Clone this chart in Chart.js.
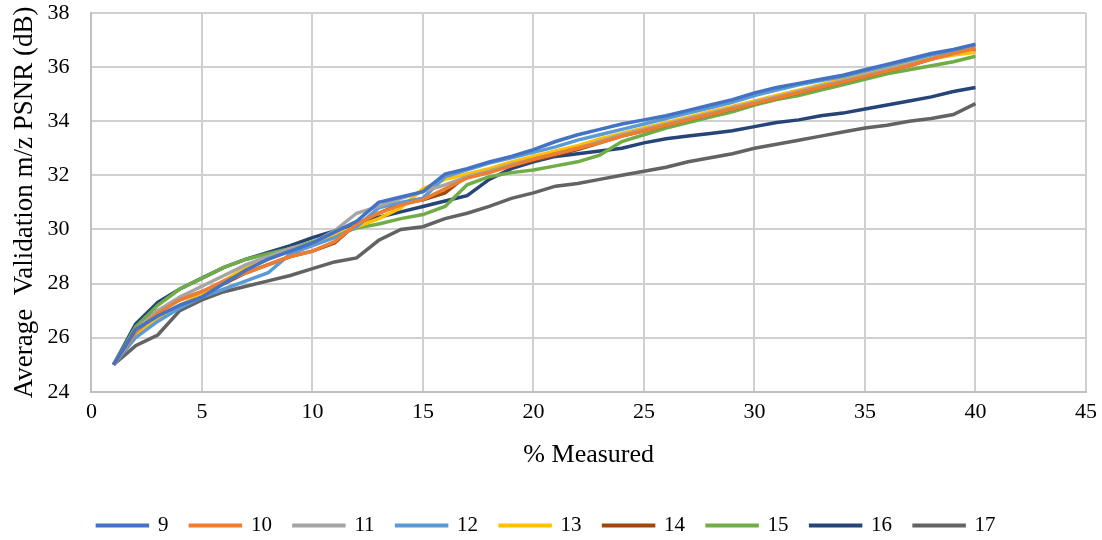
<!DOCTYPE html>
<html>
<head>
<meta charset="utf-8">
<script src="https://cdn.jsdelivr.net/npm/chart.js@4.4.1/dist/chart.umd.min.js"></script>
<style>
  html, body { margin: 0; padding: 0; background: #fff; }
  #wrap { width: 1102px; height: 540px; }
</style>
</head>
<body>
<div id="wrap"><canvas id="psnrChart" width="1102" height="540"></canvas></div>
<script>
// % measured
var measured = [1, 2, 3, 4, 5, 6, 7, 8, 9, 10, 11, 12, 13, 14, 15, 16, 17, 18, 19, 20,
                21, 22, 23, 24, 25, 26, 27, 28, 29, 30, 31, 32, 33, 34, 35, 36, 37, 38, 39, 40];

var s9  = [25, 26.3, 26.8, 27.2, 27.5, 28.0, 28.5, 28.9, 29.2, 29.5, 29.9, 30.3, 31.0, 31.2, 31.4, 32.05, 32.25, 32.5, 32.7, 32.95,
           33.25, 33.5, 33.7, 33.9, 34.05, 34.2, 34.4, 34.6, 34.8, 35.05, 35.25, 35.4, 35.55, 35.7, 35.9, 36.1, 36.3, 36.5, 36.65, 36.85];
var s10 = [25, 26.2, 26.9, 27.4, 27.7, 28.1, 28.4, 28.7, 29.0, 29.2, 29.55, 30.2, 30.6, 30.9, 31.1, 31.5, 31.9, 32.1, 32.35, 32.6,
           32.8, 33.0, 33.2, 33.45, 33.65, 33.85, 34.05, 34.25, 34.45, 34.65, 34.85, 35.05, 35.25, 35.45, 35.65, 35.85, 36.05, 36.3, 36.5, 36.7];
var s11 = [25, 26.3, 27.0, 27.5, 27.9, 28.3, 28.7, 29.0, 29.3, 29.5, 29.95, 30.6, 30.85, 31.15, 31.4, 31.65, 31.95, 32.15, 32.4, 32.6,
           32.8, 33.0, 33.25, 33.5, 33.7, 33.9, 34.1, 34.3, 34.5, 34.7, 34.9, 35.1, 35.3, 35.5, 35.7, 35.9, 36.1, 36.3, 36.5, 36.7];
var s12 = [25, 26.0, 26.6, 27.1, 27.5, 27.8, 28.1, 28.4, 29.1, 29.4, 29.7, 30.1, 30.8, 31.0, 31.15, 31.95, 32.2, 32.45, 32.65, 32.85,
           33.05, 33.3, 33.5, 33.7, 33.9, 34.1, 34.3, 34.5, 34.7, 34.95, 35.15, 35.35, 35.5, 35.65, 35.85, 36.05, 36.25, 36.45, 36.6, 36.8];
var s13 = [25, 26.1, 26.7, 27.2, 27.6, 28.1, 28.6, 28.9, 29.2, 29.5, 29.8, 30.1, 30.4, 30.8, 31.5, 31.85, 32.05, 32.25, 32.5, 32.7,
           32.9, 33.1, 33.35, 33.55, 33.75, 33.95, 34.15, 34.35, 34.55, 34.75, 34.95, 35.15, 35.35, 35.55, 35.75, 35.95, 36.15, 36.3, 36.45, 36.55];
var s14 = [25, 26.3, 27.0, 27.4, 27.7, 28.0, 28.4, 28.7, 29.0, 29.2, 29.5, 30.2, 30.6, 30.95, 31.1, 31.35, 32.0, 32.15, 32.35, 32.55,
           32.75, 32.95, 33.2, 33.45, 33.65, 33.85, 34.05, 34.25, 34.45, 34.65, 34.85, 35.05, 35.25, 35.45, 35.65, 35.85, 36.05, 36.3, 36.5, 36.65];
var s15 = [25, 26.4, 27.2, 27.8, 28.2, 28.6, 28.9, 29.1, 29.3, 29.55, 29.8, 30.05, 30.2, 30.4, 30.55, 30.85, 31.65, 31.95, 32.1, 32.2,
           32.35, 32.5, 32.75, 33.25, 33.5, 33.75, 33.95, 34.15, 34.35, 34.6, 34.8, 34.95, 35.15, 35.35, 35.55, 35.75, 35.9, 36.05, 36.2, 36.4];
var s16 = [25, 26.5, 27.3, 27.8, 28.2, 28.6, 28.9, 29.15, 29.4, 29.7, 29.95, 30.2, 30.45, 30.65, 30.85, 31.05, 31.25, 31.85, 32.25, 32.5,
           32.7, 32.8, 32.9, 33.0, 33.2, 33.35, 33.45, 33.55, 33.65, 33.8, 33.95, 34.05, 34.2, 34.3, 34.45, 34.6, 34.75, 34.9, 35.1, 35.25];
var s17 = [25, 25.7, 26.1, 27.0, 27.4, 27.7, 27.9, 28.1, 28.3, 28.55, 28.8, 28.95, 29.6, 30.0, 30.1, 30.4, 30.6, 30.85, 31.15, 31.35,
           31.6, 31.7, 31.85, 32.0, 32.15, 32.3, 32.5, 32.65, 32.8, 33.0, 33.15, 33.3, 33.45, 33.6, 33.75, 33.85, 34.0, 34.1, 34.25, 34.65];

var seriesNames = ['9', '10', '11', '12', '13', '14', '15', '16', '17'];
var seriesValues = [s9, s10, s11, s12, s13, s14, s15, s16, s17];
var seriesColors = ['#4472C4', '#ED7D31', '#A5A5A5', '#5B9BD5', '#FFC000', '#9E480E', '#70AD47', '#264478', '#636363'];

var serif = "'Liberation Serif', 'Times New Roman', serif";

var datasets = seriesNames.map(function (name, i) {
    return {
        label: name,
        data: measured.map(function (m, j) { return { x: m, y: seriesValues[i][j] }; }),
        borderColor: seriesColors[i],
        backgroundColor: seriesColors[i],
        borderWidth: 3.5,
        pointRadius: 0,
        tension: 0,
        fill: false
    };
});

var ctx = document.getElementById('psnrChart').getContext('2d');
new Chart(ctx, {
    type: 'line',
    data: { datasets: datasets },
    options: {
        responsive: false,
        animation: false,
        layout: { padding: { left: 7, right: 16, top: 0, bottom: -6 } },
        plugins: {
            tooltip: { enabled: false },
            legend: {
                position: 'bottom',
                labels: {
                    font: { family: serif, size: 21 },
                    color: '#000',
                    boxWidth: 50,
                    boxHeight: 0.5,
                    padding: 22
                }
            }
        },
        scales: {
            x: {
                type: 'linear',
                min: 0,
                max: 45,
                ticks: { stepSize: 5, font: { family: serif, size: 22, lineHeight: 1 }, color: '#000', padding: 1 },
                // invisible tick marks stand in for the label gap (tick padding is counted twice in the fit)
                grid: { color: '#d0d0d0', lineWidth: 2, drawTicks: true, tickLength: 8, tickColor: 'rgba(0,0,0,0)' },
                border: { color: '#c0c0c0', width: 2 },
                title: { display: true, text: '% Measured', font: { family: serif, size: 26 }, color: '#000', padding: { top: 16, bottom: 22 } }
            },
            y: {
                min: 24,
                max: 38,
                ticks: { stepSize: 2, font: { family: serif, size: 22, lineHeight: 1 }, color: '#000', padding: 2 },
                grid: { color: '#d0d0d0', lineWidth: 2, drawTicks: true, tickLength: 20, tickColor: 'rgba(0,0,0,0)' },
                border: { color: '#c0c0c0', width: 2 },
                title: { display: true, text: 'Average  Validation m/z PSNR (dB)', font: { family: serif, size: 27 }, color: '#000', padding: { top: 2, bottom: 4 } }
            }
        }
    }
});
</script>
</body>
</html>
